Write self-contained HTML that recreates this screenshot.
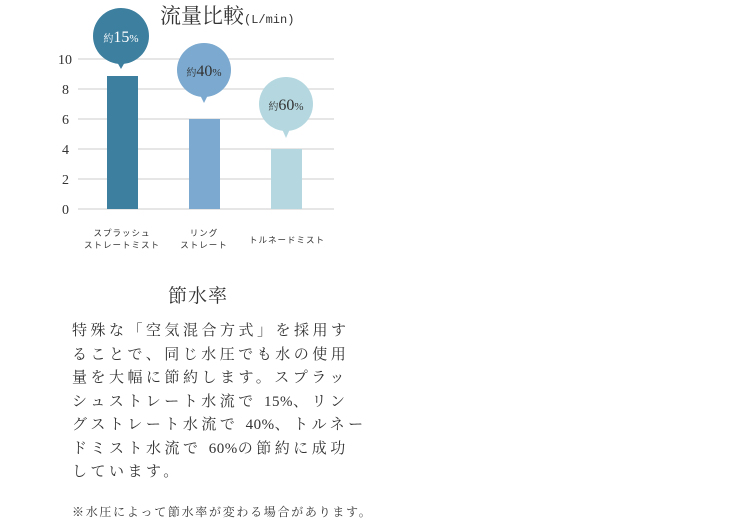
<!DOCTYPE html>
<html><head><meta charset="utf-8"><style>
body{margin:0;width:750px;height:519px;background:#fff;position:relative;overflow:hidden;font-family:"Liberation Serif","Noto Serif CJK SC",serif;color:#333}
.a{position:absolute;white-space:nowrap}
.p{position:absolute;left:72px;font-size:15px;letter-spacing:3.5px;white-space:nowrap;line-height:20px}
.n{letter-spacing:0.5px}
</style></head><body>
<svg width="750" height="519" style="position:absolute;left:0;top:0">
<g stroke="#ddd" stroke-width="1.5">
<line x1="78" y1="59" x2="334" y2="59"/><line x1="78" y1="89" x2="334" y2="89"/>
<line x1="78" y1="119" x2="334" y2="119"/><line x1="78" y1="149" x2="334" y2="149"/>
<line x1="78" y1="179" x2="334" y2="179"/><line x1="78" y1="209" x2="334" y2="209"/>
</g>
<g font-family="Liberation Serif,serif" font-size="14" fill="#333" text-anchor="end">
<text x="72" y="64">10</text><text x="69" y="94">8</text><text x="69" y="124">6</text>
<text x="69" y="154">4</text><text x="69" y="184">2</text><text x="69" y="214">0</text>
</g>
<rect x="107" y="76" width="31" height="133" fill="#3d7f9f"/>
<rect x="189" y="119" width="31" height="90" fill="#7ba9cf"/>
<rect x="271" y="149" width="31" height="60" fill="#b5d8e0"/>
<circle cx="121" cy="36" r="28" fill="#3d7f9f"/><polygon points="117,62 125,62 121,69" fill="#3d7f9f"/>
<circle cx="204" cy="70" r="27" fill="#7ba9cf"/><polygon points="200,95 208,95 204,103" fill="#7ba9cf"/>
<circle cx="286" cy="104" r="27" fill="#b5d8e0"/><polygon points="282,129 290,129 286,138" fill="#b5d8e0"/>
<g font-family="Liberation Serif,Noto Serif CJK SC,serif" font-size="16" text-anchor="middle">
<text x="121" y="42" fill="#fff"><tspan font-size="10">約</tspan>15<tspan font-size="11">%</tspan></text>
<text x="204" y="76" fill="#333"><tspan font-size="10">約</tspan>40<tspan font-size="11">%</tspan></text>
<text x="286" y="110" fill="#333"><tspan font-size="10">約</tspan>60<tspan font-size="11">%</tspan></text>
</g>
<g font-family="Liberation Sans,Noto Sans CJK JP,sans-serif" font-size="8.5" fill="#333" text-anchor="middle" letter-spacing="1">
<text x="122" y="236">スプラッシュ</text><text x="122" y="248">ストレートミスト</text>
<text x="204" y="236">リング</text><text x="204" y="248">ストレート</text>
<text x="287" y="243">トルネードミスト</text>
</g>
</svg>
<div class="a" style="left:160px;top:0px;font-size:21px">流量比較<span style="font-size:12px;font-family:'Liberation Mono',monospace">(L/min)</span></div>
<div class="a" style="left:168px;top:281px;font-size:19px;letter-spacing:1px">節水率</div>
<div class="p" style="top:321px">特殊な「空気混合方式」を採用す</div>
<div class="p" style="top:345px">ることで、同じ水圧でも水の使用</div>
<div class="p" style="top:368px">量を大幅に節約します。スプラッ</div>
<div class="p" style="top:392px">シュストレート水流で <span class="n">15%</span>、リン</div>
<div class="p" style="top:415px">グストレート水流で <span class="n">40%</span>、トルネー</div>
<div class="p" style="top:439px">ドミスト水流で <span class="n">60%</span>の節約に成功</div>
<div class="p" style="top:462px">しています。</div>
<div class="a" style="left:72px;top:503px;font-size:12px;letter-spacing:1.7px">※水圧によって節水率が変わる場合があります。</div>
</body></html>
